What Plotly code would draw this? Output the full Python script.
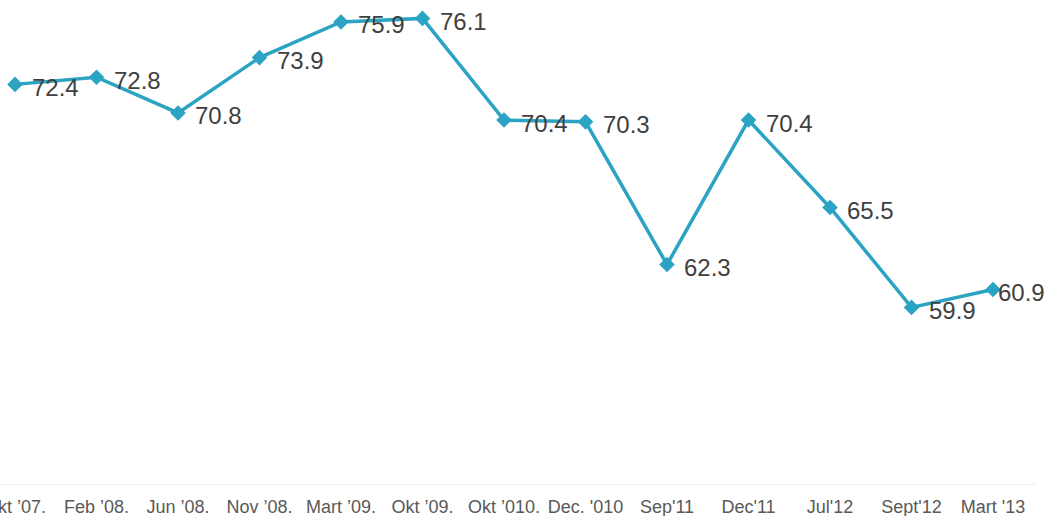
import plotly.graph_objects as go

# period labels along the bottom axis
periods = ["Okt ’07.", "Feb ’08.", "Jun ’08.", "Nov ’08.", "Mart ’09.", "Okt ’09.",
           "Okt ’010.", "Dec. '010", "Sep'11", "Dec'11", "Jul'12", "Sept'12", "Mart '13"]
values = [72.4, 72.8, 70.8, 73.9, 75.9, 76.1, 70.4, 70.3, 62.3, 70.4, 65.5, 59.9, 60.9]

line_color = "#2ba3c3"
font_family = "Liberation Sans, Arial, sans-serif"

x_idx = list(range(len(periods)))

fig = go.Figure()
fig.add_trace(go.Scatter(
    x=x_idx, y=values,
    mode="lines+markers",
    line=dict(color=line_color, width=3.5),
    marker=dict(symbol="diamond", size=12, color=line_color),
    cliponaxis=False,
    hoverinfo="skip",
))

# value labels to the right of each point
for i, v in enumerate(values):
    shift = 3 if i == len(values) - 1 else 15
    fig.add_annotation(
        x=i, y=v, text=f"{v:.1f}",
        xref="x", yref="y",
        xanchor="left", yanchor="middle",
        xshift=shift, yshift=-3,
        showarrow=False,
        font=dict(family=font_family, size=24, color="#404040"),
    )

fig.update_xaxes(
    range=[-0.184, 12.515],
    tickmode="array", tickvals=x_idx, ticktext=periods,
    showgrid=False, zeroline=False,
    showline=True, linecolor="#eeeeee", linewidth=1,
    ticks="outside", ticklen=6, tickcolor="rgba(0,0,0,0)",
    tickfont=dict(family=font_family, size=18, color="#595959"),
    tickangle=0, ticklabeloverflow="allow", automargin=False,
)
fig.update_yaxes(
    range=[50, 77.13],
    visible=False, showgrid=False, zeroline=False, automargin=False,
)

fig.update_layout(
    width=1049, height=516,
    margin=dict(l=0, r=14, t=0, b=32),
    plot_bgcolor="white", paper_bgcolor="white",
    showlegend=False,
)

fig.write_html("out.html", config={"displayModeBar": False},
               post_script="document.body.style.margin='0';")
